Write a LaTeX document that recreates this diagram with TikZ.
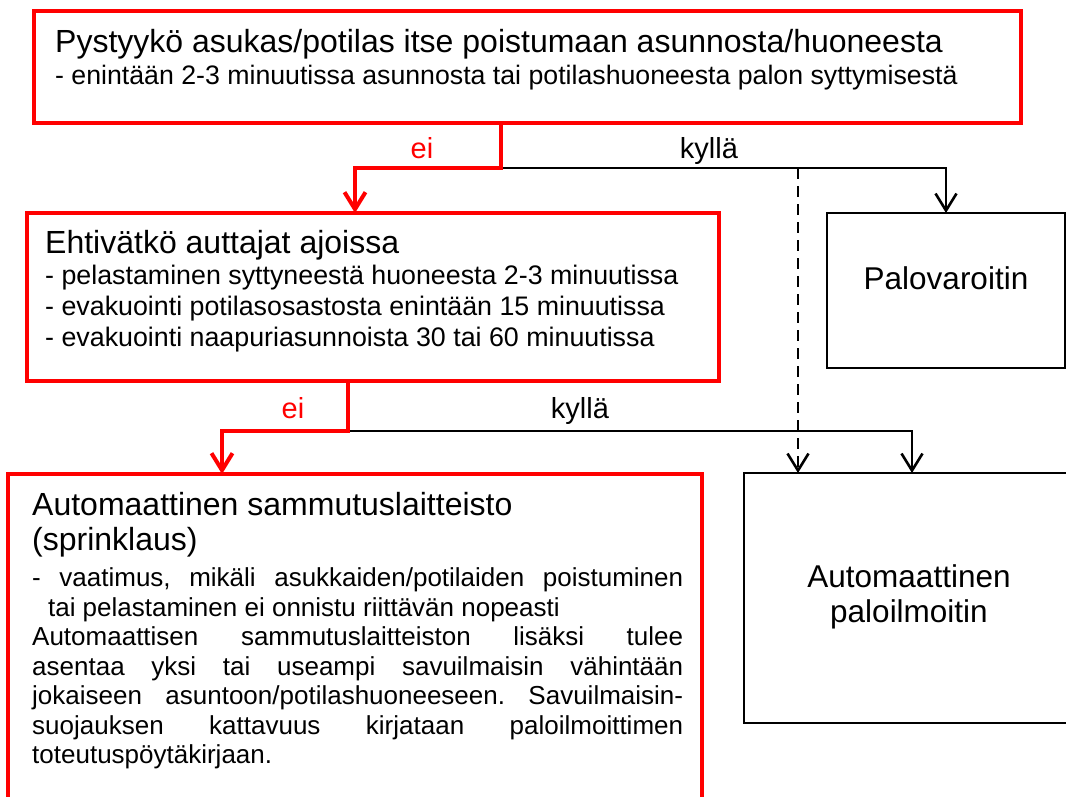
\documentclass[tikz,border=0pt]{standalone}
\usepackage{fontspec}
\setmainfont{Liberation Sans}
\usepackage{tikz}
\usetikzlibrary{arrows.meta,positioning,calc}
\definecolor{alarmred}{RGB}{255,0,0}
\frenchspacing
\newcommand{\qhead}{\fontsize{32}{35}\selectfont}
\newcommand{\qsub}{\fontsize{26.7}{32}\selectfont}
\newcommand{\qlist}{\fontsize{26.8}{31}\selectfont}
\newcommand{\qbody}{\fontsize{26}{29.5}\selectfont}
\tikzset{yesarrow/.style = {
    line width=2.6pt,
    -{Straight Barb[length=17pt,width=21pt]},
  },
  noarrow/.style = {yesarrow, draw=alarmred, line width=4pt}
}

\begin{document}
\begin{tikzpicture}[x=1pt, y=-1pt]
          \useasboundingbox (0,0) rectangle (1066,796);
          \clip (0,0) rectangle (1066,796);
          % vertices
          \tikzstyle{question} = [rectangle, draw=alarmred, line width=4pt, inner sep=0pt, outer sep=0pt, below right]
          \tikzstyle{device} = [rectangle, draw, line width=2pt, inner sep=0pt, outer sep=0pt, below right]
          \tikzstyle{boxtext} = [inner sep=0pt, anchor=base west, align=justify]
          \tikzstyle{devicetext} = [inner sep=0pt, anchor=base, text width=300pt, align=center, font=\fontsize{31.5}{35}\selectfont]
          \tikzstyle{answer} = [inner sep=0pt, anchor=base, font=\fontsize{29}{32}\selectfont]

          \node[question, minimum width=987, minimum height=112] (qself) at (34,11) {};
          \node[boxtext, text width=960pt] (qselftext) at ($(qself.north west)+(21,41)$)
            {\qhead Pystyykö asukas/potilas itse poistumaan asunnosta/huoneesta\par
             \qsub - enintään 2-3 minuutissa asunnosta tai potilashuoneesta palon syttymisestä\par};

          \node[question, minimum width=692, minimum height=168] (qhelp) at (27,213) {};
          \node[boxtext, text width=670pt] (qhelptext) at ($(qhelp.north west)+(18,40)$)
            {\qhead Ehtivätkö auttajat ajoissa\par
             \qlist - pelastaminen syttyneestä huoneesta 2-3 minuutissa\par
             - evakuointi potilasosastosta enintään 15 minuutissa\par
             - evakuointi naapuriasunnoista 30 tai 60 minuutissa\par};

          \node[question, minimum width=694, minimum height=400] (sprinkler) at (8,474) {};
          \node[boxtext, text width=651pt] (sprinklertext) at ($(sprinkler.north west)+(24,41)$)
            {\tolerance=10000 \hbadness=10000 \lineskiplimit=-100pt
             \qhead Automaattinen sammutuslaitteisto\par
             (sprinklaus)\par
             \vspace{7pt}
             \qbody\setbox0\hbox{- }\hangindent=\wd0 \hangafter=1
             - vaatimus, mikäli asukkaiden/potilaiden poistuminen\linebreak
             tai pelastaminen ei onnistu riittävän nopeasti\par
             Automaattisen sammutuslaitteiston lisäksi tulee\linebreak
             asentaa yksi tai useampi savuilmaisin vähintään\linebreak
             jokaiseen asuntoon/potilashuoneeseen. Savuilmaisin-\linebreak
             suojauksen kattavuus kirjataan paloilmoittimen\linebreak
             toteutuspöytäkirjaan.\par};

          \node[device, minimum width=238, minimum height=155] (detector) at (827,213) {};
          \node[devicetext] (detectortext) at ($(detector.north)+(0,76)$) {Palovaroitin};

          \node[device, minimum width=330, minimum height=250] (alarm) at (744,473) {};
          \node[devicetext] (alarmtext) at ($(alarm.north)+(0,114)$) {Automaattinen\\paloilmoitin};

          % connectors
          \coordinate (fork1) at (501,168);
          \coordinate (fork2) at (348,431);
          \coordinate (helpin) at ($(qhelp.north west)+(328,0)$);
          \coordinate (sprinklerin) at ($(sprinkler.north west)+(214,0)$);
          \coordinate (smokein) at ($(alarm.north west)+(54,0)$);
          \coordinate (alarmin) at ($(alarm.north west)+(168,0)$);

          \draw[yesarrow, dash pattern=on 11pt off 7pt] (smokein |- fork1) -- (smokein);
          \draw[yesarrow] (fork1) -| (detector.north);
          \draw[noarrow] (qself.south -| fork1) -- (fork1) -| (helpin);
          \draw[yesarrow] (fork2) -| (alarmin);
          \draw[noarrow] (qhelp.south -| fork2) -- (fork2) -| (sprinklerin);

          \node[answer, text=alarmred] (no1) at (422,158) {ei};
          \node[answer] (yes1) at (709,158) {kyllä};
          \node[answer, text=alarmred] (no2) at (293,418) {ei};
          \node[answer] (yes2) at (580,418) {kyllä};
        \end{tikzpicture}
\end{document}
